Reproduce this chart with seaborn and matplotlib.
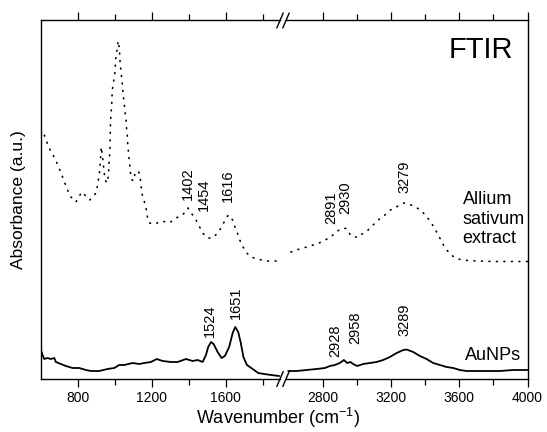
import numpy as np
import pandas as pd
import matplotlib
matplotlib.use("Agg")
import matplotlib.pyplot as plt
import seaborn as sns
from matplotlib.lines import Line2D
from matplotlib.ticker import FixedLocator, NullFormatter

# ---------------- data ----------------
allium_wn = [600, 615, 626, 640, 660, 677, 695, 711, 727, 742, 759, 791, 823, 866, 900, 908,
             914, 920, 928, 936, 948, 960, 967, 971, 975, 976, 978, 980, 984, 987, 992, 1000,
             1003, 1005, 1011, 1016, 1019, 1023, 1025, 1028, 1030, 1035, 1039, 1043, 1046, 1052,
             1055, 1061, 1063, 1068, 1070, 1073, 1077, 1081, 1084, 1090, 1100, 1111, 1129, 1138,
             1143, 1147, 1156, 1169, 1174, 1187, 1217, 1255, 1295, 1331, 1367, 1396, 1421, 1439,
             1456, 1475, 1502, 1529, 1556, 1574, 1591, 1613, 1637, 1651, 1667, 1681, 1708, 1735,
             1772, 1816, 1861, 1876,
             2615, 2648, 2681, 2712, 2745, 2780, 2813, 2843, 2872, 2897, 2925, 2944, 2966, 2989,
             3014, 3038, 3067, 3096, 3126, 3165, 3198, 3243, 3276, 3300, 3342, 3375, 3406, 3434,
             3455, 3478, 3498, 3518, 3547, 3577, 3616, 3700, 3800, 3900, 4000]
allium_abs = [2.50, 2.47, 2.41, 2.34, 2.26, 2.21, 2.13, 2.06, 1.98, 1.91, 1.83, 1.77, 1.87, 1.79, 1.86, 1.94,
              2.01, 2.09, 2.32, 2.20, 1.99, 1.96, 2.04, 2.20, 2.27, 2.42, 2.57, 2.65, 2.72, 2.88, 2.95, 3.03,
              3.11, 3.19, 3.26, 3.34, 3.38, 3.35, 3.30, 3.23, 3.15, 3.07, 2.99, 2.92, 2.84, 2.76,
              2.68, 2.61, 2.53, 2.45, 2.37, 2.30, 2.22, 2.15, 2.08, 2.00, 1.98, 2.06, 2.08, 2.01,
              1.93, 1.86, 1.80, 1.72, 1.64, 1.56, 1.55, 1.58, 1.56, 1.61, 1.64, 1.71, 1.64, 1.59,
              1.53, 1.46, 1.41, 1.41, 1.46, 1.51, 1.57, 1.64, 1.59, 1.51, 1.44, 1.36, 1.27, 1.22,
              1.20, 1.18, 1.18, 1.18,
              1.27, 1.29, 1.31, 1.32, 1.34, 1.36, 1.39, 1.41, 1.46, 1.49, 1.51, 1.50, 1.43, 1.42,
              1.42, 1.46, 1.49, 1.54, 1.59, 1.64, 1.69, 1.73, 1.76, 1.755, 1.72, 1.69, 1.63, 1.57,
              1.51, 1.44, 1.37, 1.31, 1.25, 1.21, 1.19, 1.18, 1.175, 1.175, 1.175]

aunp_wn = [600, 606, 611, 620, 638, 656, 674, 683, 710, 737, 773, 809, 845, 872, 917, 962, 998,
           1025, 1052, 1097, 1133, 1160, 1196, 1227, 1259, 1304, 1340, 1385, 1421, 1448, 1475,
           1493, 1505, 1520, 1534, 1556, 1577, 1595, 1618, 1637, 1651, 1667, 1681, 1695, 1714,
           1745, 1775, 1807, 1844, 1888,
           2599, 2648, 2707, 2765, 2814, 2843, 2872, 2901, 2925, 2944, 2964, 2979, 3003, 3038,
           3077, 3116, 3155, 3194, 3234, 3273, 3292, 3331, 3370, 3409, 3448, 3487, 3526, 3565,
           3604, 3643, 3682, 3721, 3760, 3838, 3916, 4000]
aunp_abs = [0.28, 0.27, 0.24, 0.20, 0.21, 0.20, 0.21, 0.17, 0.15, 0.13, 0.11, 0.11, 0.09, 0.08, 0.08, 0.10, 0.11,
            0.14, 0.14, 0.16, 0.15, 0.16, 0.17, 0.20, 0.18, 0.17, 0.17, 0.20, 0.18, 0.19, 0.17,
            0.24, 0.32, 0.37, 0.35, 0.27, 0.21, 0.23, 0.32, 0.46, 0.52, 0.47, 0.36, 0.22, 0.14,
            0.10, 0.06, 0.05, 0.04, 0.03,
            0.08, 0.08, 0.09, 0.10, 0.11, 0.13, 0.14, 0.16, 0.19, 0.16, 0.17, 0.15, 0.13, 0.15,
            0.16, 0.17, 0.19, 0.22, 0.26, 0.29, 0.295, 0.27, 0.23, 0.20, 0.16, 0.14, 0.12, 0.11,
            0.09, 0.08, 0.08, 0.08, 0.08, 0.08, 0.09, 0.09]

# peak labels: (text, wavenumber position, absorbance at label foot)
allium_labels = ["1402", "1454", "1616", "2891", "2930", "3279"]
allium_label_wn = [1396, 1479, 1610, 2850, 2933, 3282]
allium_label_y = [1.79, 1.68, 1.77, 1.55, 1.65, 1.86]
aunp_labels = ["1524", "1651", "2928", "2958", "3289"]
aunp_label_wn = [1515, 1656, 2877, 2991, 3278]
aunp_label_y = [0.42, 0.60, 0.22, 0.35, 0.43]

left_major = [800, 1200, 1600]
left_minor = [1000, 1400, 1800]
right_major = [2800, 3200, 3600, 4000]
right_minor = [3000, 3400, 3800]

# ---------------- style ----------------
sns.set_style("ticks")
plt.rcParams["font.family"] = ["Liberation Sans", "DejaVu Sans"]
plt.rcParams["mathtext.fontset"] = "custom"
plt.rcParams["mathtext.rm"] = "Liberation Sans"
plt.rcParams["mathtext.it"] = "Liberation Sans:italic"
plt.rcParams["mathtext.bf"] = "Liberation Sans:bold"
for k in ("text.color", "axes.labelcolor", "xtick.color", "ytick.color", "axes.edgecolor"):
    plt.rcParams[k] = "black"

W, H = 547, 432
fig = plt.figure(figsize=(W / 100, H / 100), dpi=100)

def fx(px):
    return px / W

def fy(py):
    return 1 - py / H

ax_top, ax_bot = 20.5, 379
xL0, xL1 = 40.5, 280
xR0, xR1 = 286, 527.5
axL = fig.add_axes([fx(xL0), fy(ax_bot), fx(xL1 - xL0), (ax_bot - ax_top) / H])
axR = fig.add_axes([fx(xR0), fy(ax_bot), fx(xR1 - xR0), (ax_bot - ax_top) / H])

df_all = pd.DataFrame({"wn": allium_wn, "A": allium_abs})
df_au = pd.DataFrame({"wn": aunp_wn, "A": aunp_abs})

for ax, sel in ((axL, lambda d: d[d.wn < 2200]), (axR, lambda d: d[d.wn > 2200])):
    sns.lineplot(data=sel(df_all), x="wn", y="A", ax=ax, color="black", lw=1.2,
                 linestyle=(0, (0.5, 4.0)), dash_capstyle="round", estimator=None, sort=False)
    sns.lineplot(data=sel(df_au), x="wn", y="A", ax=ax, color="black", lw=1.3,
                 estimator=None, sort=False)
    ax.set_ylim(0, 3.585)
    ax.set_xlabel("")
    ax.set_ylabel("")
    ax.set_yticks([])
    for s in ax.spines.values():
        s.set_linewidth(1.0)
        s.set_color("black")
    ax.tick_params(axis="x", which="both", direction="out", top=True, bottom=True,
                   labeltop=False, labelbottom=True, width=0.9, color="black",
                   labelcolor="black", labelsize=10, pad=3)
    ax.tick_params(axis="x", which="major", length=5.5)
    ax.tick_params(axis="x", which="minor", length=4)

axL.set_xlim(600, 600 + (xL1 - xL0) / 0.1853)
axR.set_xlim(4000 - (xR1 - xR0) / 0.1708, 4000)
axL.spines["right"].set_visible(False)
axR.spines["left"].set_visible(False)

axL.xaxis.set_major_locator(FixedLocator(left_major))
axL.xaxis.set_minor_locator(FixedLocator(left_minor))
axR.xaxis.set_major_locator(FixedLocator(right_major))
axR.xaxis.set_minor_locator(FixedLocator(right_minor))
axL.xaxis.set_minor_formatter(NullFormatter())
axR.xaxis.set_minor_formatter(NullFormatter())

# peak labels
for t, x, y in zip(allium_labels, allium_label_wn, allium_label_y):
    ax = axL if x < 2200 else axR
    ax.text(x, y, t, rotation=90, ha="center", va="bottom", fontsize=10.5, color="black")
for t, x, y in zip(aunp_labels, aunp_label_wn, aunp_label_y):
    ax = axL if x < 2200 else axR
    ax.text(x, y, t, rotation=90, ha="center", va="bottom", fontsize=10.5, color="black")

# break marks
for xc in (xL1, xR0):
    for yc in (ax_top, ax_bot):
        fig.add_artist(Line2D([fx(xc - 3.2), fx(xc + 3.2)], [fy(yc + 7.5), fy(yc - 7.5)],
                              color="black", lw=1.0, transform=fig.transFigure))

# texts
fig.text(fx(513), fy(58.3), "FTIR", ha="right", va="baseline", fontsize=21)
fig.text(fx(462.7), fy(191), "Allium\nsativum\nextract", ha="left", va="top",
         fontsize=13, linespacing=1.2)
fig.text(fx(465), fy(360), "AuNPs", ha="left", va="baseline", fontsize=13)
fig.text(fx(278), fy(430), r"Wavenumber (cm$^{\mathregular{-1}}$)", ha="center", va="bottom",
         fontsize=13)
fig.text(fx(19), fy(200), "Absorbance (a.u.)", rotation=90, ha="center", va="center",
         fontsize=12.5)

fig.savefig("out.png", dpi=100)
